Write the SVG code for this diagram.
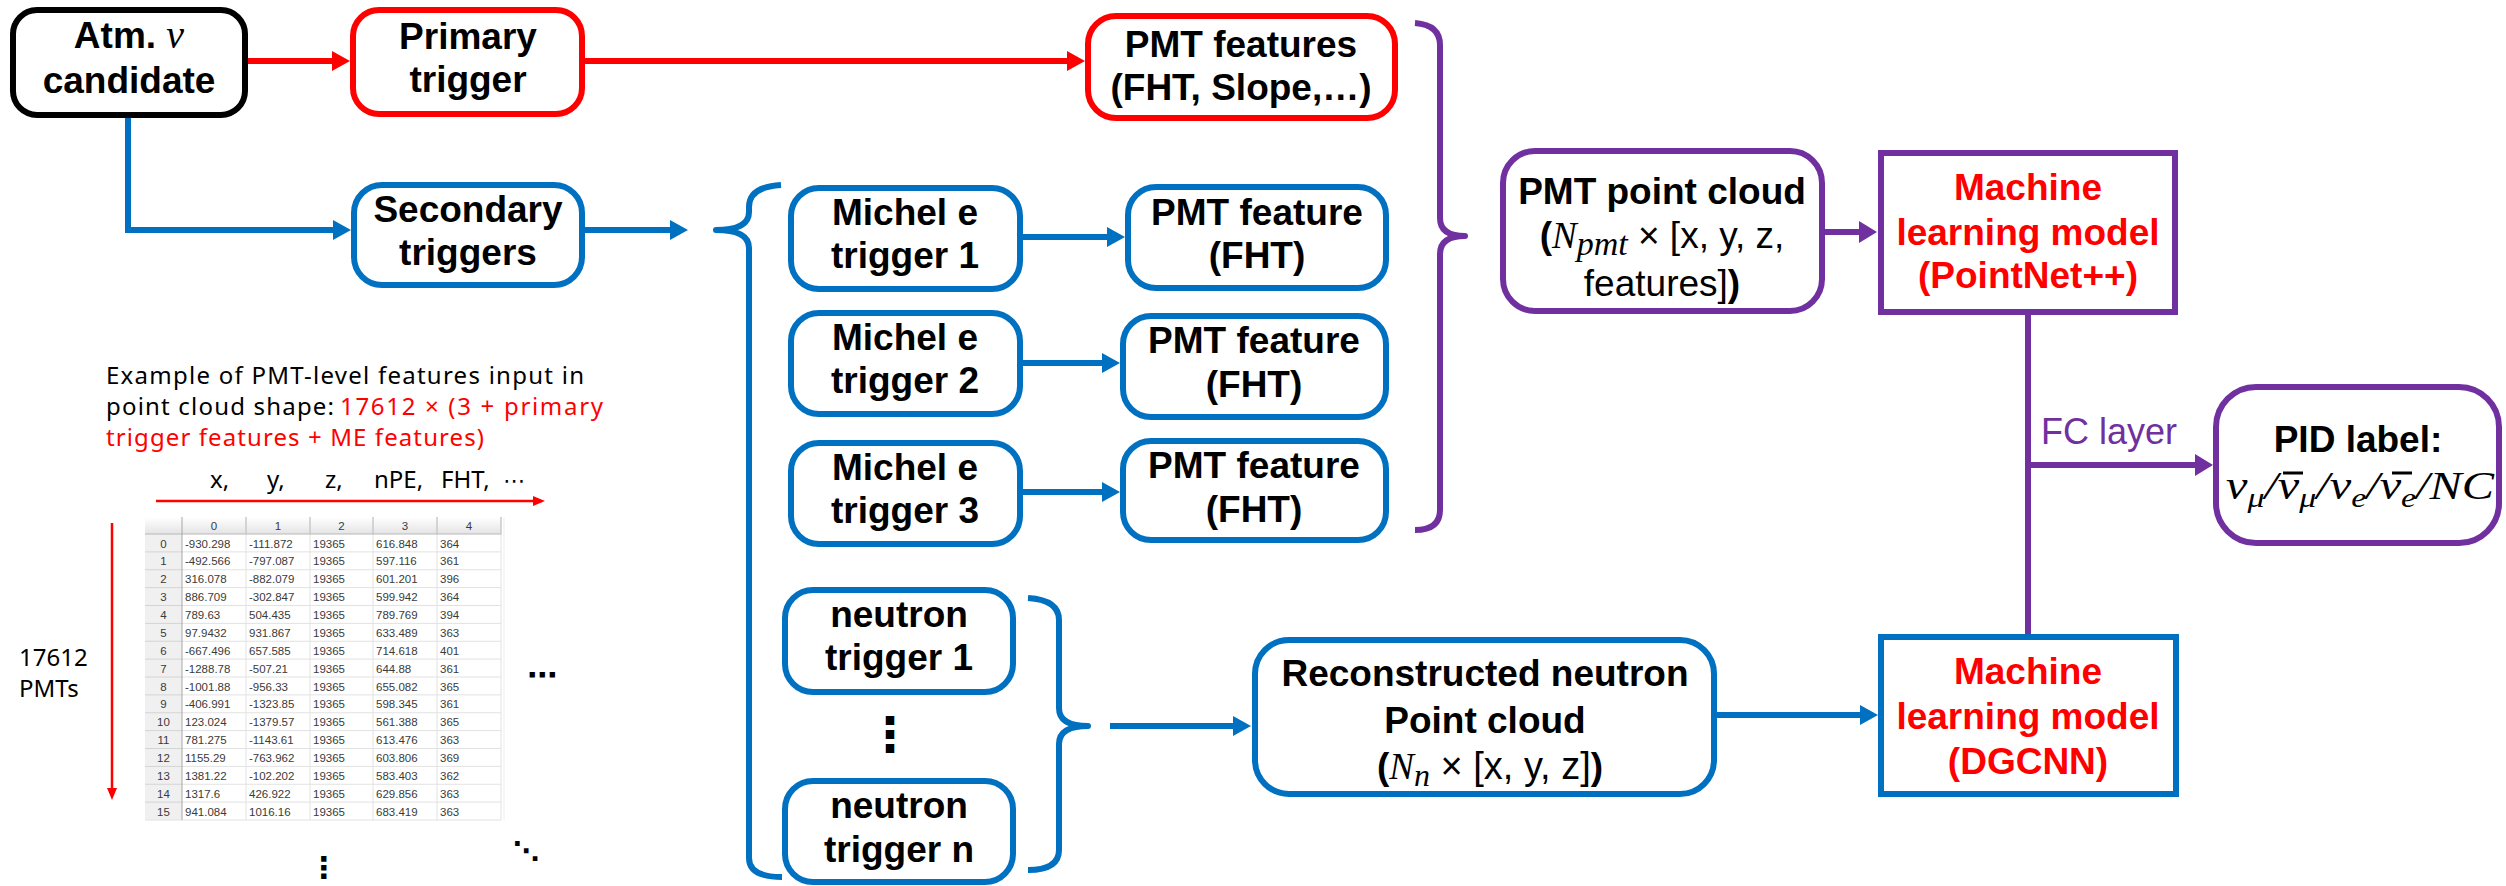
<svg xmlns="http://www.w3.org/2000/svg" width="2506" height="886" viewBox="0 0 2506 886">
  <style>
    .box { fill: #fff; stroke-width: 6; }
    .k { stroke: #000; }
    .r { stroke: #FF0000; }
    .b { stroke: #0070C0; }
    .p { stroke: #7030A0; }
    .lbl { font-family: "Liberation Sans", Arial, sans-serif; font-weight: bold; font-size: 37px; text-anchor: middle; fill: #000; }
    .reg { font-weight: normal; }
    .m { font-family: "Liberation Serif", "DejaVu Serif", serif; font-style: italic; font-weight: normal; }
    .wire { fill: none; stroke-width: 6; }
    .brace { fill: none; stroke-width: 6; stroke-linejoin: round; }
    .note { font-family: "Noto Sans", "Liberation Sans", sans-serif; font-size: 24px; fill: #000; }
    .cell { font-family: "Liberation Sans", Arial, sans-serif; font-size: 11.5px; fill: #3a3a3a; }
    .ctr { text-anchor: middle; }
    .dots { font-family: "DejaVu Sans", sans-serif; fill: #000; }
    .grid { stroke: #e2e2e2; stroke-width: 1; }
    .red { fill: #FF0000; }
  </style>
  <defs>
    <marker id="ahR" markerUnits="userSpaceOnUse" markerWidth="18" markerHeight="20" refX="10" refY="10" orient="auto">
      <path d="M0,0 L18,10 L0,20 Z" fill="#FF0000"/>
    </marker>
    <marker id="ahB" markerUnits="userSpaceOnUse" markerWidth="18" markerHeight="20" refX="10" refY="10" orient="auto">
      <path d="M0,0 L18,10 L0,20 Z" fill="#0070C0"/>
    </marker>
    <marker id="ahP" markerUnits="userSpaceOnUse" markerWidth="18" markerHeight="22" refX="10" refY="11" orient="auto">
      <path d="M0,0 L18,11 L0,22 Z" fill="#7030A0"/>
    </marker>
    <marker id="ahS" markerUnits="userSpaceOnUse" markerWidth="12" markerHeight="10" refX="6" refY="5" orient="auto">
      <path d="M0,0 L12,5 L0,10 Z" fill="#FF0000"/>
    </marker>
    <linearGradient id="hdr" x1="0" y1="0" x2="0" y2="1">
      <stop offset="0" stop-color="#ffffff"/>
      <stop offset="1" stop-color="#e4e4e4"/>
    </linearGradient>
  </defs>

  <!-- connectors -->
  <g id="connectors">
    <path class="wire r" d="M246,61 H342" marker-end="url(#ahR)"/>
    <path class="wire r" d="M585,61 H1077" marker-end="url(#ahR)"/>
    <path class="wire b" d="M128,116 V230 H343" marker-end="url(#ahB)"/>
    <path class="wire b" d="M585,230 H680" marker-end="url(#ahB)"/>
    <path class="wire b" d="M1023,237 H1117" marker-end="url(#ahB)"/>
    <path class="wire b" d="M1023,363 H1112" marker-end="url(#ahB)"/>
    <path class="wire b" d="M1023,492 H1112" marker-end="url(#ahB)"/>
    <path class="wire b" d="M1110,726 H1243" marker-end="url(#ahB)"/>
    <path class="wire b" d="M1716,715 H1870" marker-end="url(#ahB)"/>
    <path class="wire p" d="M1823,232 H1869" marker-end="url(#ahP)"/>
    <path class="wire p" d="M2028,315 V634"/>
    <path class="wire p" d="M2028,465 H2205" marker-end="url(#ahP)"/>
    <text x="2041" y="444" font-family="Liberation Sans, Arial, sans-serif" font-size="36" fill="#7030A0">FC layer</text>
    <!-- grouping braces -->
    <path class="brace b" d="M781,185 Q749,187 749,207 L749,212 Q749,230 716,230 Q749,230 749,248 L749,858 Q749,877 782,877"/>
    <path class="brace p" d="M1415,23 Q1440,25 1440,45 L1440,218 Q1440,236 1465,236 Q1440,236 1440,254 L1440,510 Q1440,530 1415,530"/>
    <path class="brace b" d="M1028,598 Q1059,600 1059,620 L1059,708 Q1059,726 1088,726 Q1059,726 1059,744 L1059,850 Q1059,870 1028,870"/>
  </g>

  <!-- nodes -->
  <g id="n-atm">
    <rect class="box k" x="13" y="10" width="232" height="105" rx="24"/>
    <text class="lbl" x="129" y="48">Atm. <tspan class="m" font-size="40">ν</tspan></text>
    <text class="lbl" x="129" y="93">candidate</text>
  </g>
  <g id="n-primary">
    <rect class="box r" x="353" y="10" width="229" height="104" rx="26"/>
    <text class="lbl" x="468" y="49">Primary</text>
    <text class="lbl" x="468" y="92">trigger</text>
  </g>
  <g id="n-pmt-features">
    <rect class="box r" x="1088" y="16" width="307" height="102" rx="28"/>
    <text class="lbl" x="1241" y="57">PMT features</text>
    <text class="lbl" x="1241" y="100">(FHT, Slope,…)</text>
  </g>
  <g id="n-secondary">
    <rect class="box b" x="354" y="185" width="228" height="100" rx="28"/>
    <text class="lbl" x="468" y="222">Secondary</text>
    <text class="lbl" x="468" y="265">triggers</text>
  </g>
  <g id="n-michel1">
    <rect class="box b" x="791" y="188" width="229" height="101" rx="28"/>
    <text class="lbl" x="905" y="225">Michel e</text>
    <text class="lbl" x="905" y="268">trigger 1</text>
  </g>
  <g id="n-michel2">
    <rect class="box b" x="791" y="313" width="229" height="101" rx="28"/>
    <text class="lbl" x="905" y="350">Michel e</text>
    <text class="lbl" x="905" y="393">trigger 2</text>
  </g>
  <g id="n-michel3">
    <rect class="box b" x="791" y="443" width="229" height="101" rx="28"/>
    <text class="lbl" x="905" y="480">Michel e</text>
    <text class="lbl" x="905" y="523">trigger 3</text>
  </g>
  <g id="n-feature1">
    <rect class="box b" x="1128" y="187" width="258" height="101" rx="28"/>
    <text class="lbl" x="1257" y="225">PMT feature</text>
    <text class="lbl" x="1257" y="268">(FHT)</text>
  </g>
  <g id="n-feature2">
    <rect class="box b" x="1123" y="316" width="263" height="101" rx="28"/>
    <text class="lbl" x="1254" y="353">PMT feature</text>
    <text class="lbl" x="1254" y="397">(FHT)</text>
  </g>
  <g id="n-feature3">
    <rect class="box b" x="1123" y="441" width="263" height="99" rx="28"/>
    <text class="lbl" x="1254" y="478">PMT feature</text>
    <text class="lbl" x="1254" y="522">(FHT)</text>
  </g>
  <g id="n-pointcloud">
    <rect class="box p" x="1503" y="151" width="319" height="160" rx="32"/>
    <text class="lbl" x="1662" y="204">PMT point cloud</text>
    <text class="lbl" x="1662" y="248" font-size="38">(<tspan class="m">N</tspan><tspan class="m" font-size="34" dy="7">pmt</tspan><tspan class="reg" dy="-7"> × [x, y, z,</tspan></text>
    <text class="lbl" x="1662" y="296"><tspan class="reg">features]</tspan>)</text>
  </g>
  <g id="n-pointnet">
    <rect class="box p" x="1881" y="153" width="294" height="159"/>
    <text class="lbl red" x="2028" y="200">Machine</text>
    <text class="lbl red" x="2028" y="245">learning model</text>
    <text class="lbl red" x="2028" y="288">(PointNet++)</text>
  </g>
  <g id="n-pid">
    <rect class="box p" x="2216" y="387" width="283" height="156" rx="40"/>
    <text class="lbl" x="2358" y="452">PID label:</text>
    <text class="m" x="2226" y="499" font-size="40" textLength="268" lengthAdjust="spacingAndGlyphs">ν<tspan font-size="28" dy="8">μ</tspan><tspan dy="-8">/ν</tspan><tspan font-size="28" dy="8">μ</tspan><tspan dy="-8">/ν</tspan><tspan font-size="28" dy="8">e</tspan><tspan dy="-8">/ν</tspan><tspan font-size="28" dy="8">e</tspan><tspan dy="-8">/NC</tspan></text>
    <path d="M2283,473 H2303 M2392,473 H2412" stroke="#000" stroke-width="3"/>
  </g>
  <g id="n-dgcnn">
    <rect class="box b" x="1881" y="637" width="295" height="157"/>
    <text class="lbl red" x="2028" y="684">Machine</text>
    <text class="lbl red" x="2028" y="729">learning model</text>
    <text class="lbl red" x="2028" y="774">(DGCNN)</text>
  </g>
  <g id="n-recon">
    <rect class="box b" x="1255" y="640" width="459" height="154" rx="34"/>
    <text class="lbl" x="1485" y="686">Reconstructed neutron</text>
    <text class="lbl" x="1485" y="733">Point cloud</text>
    <text class="lbl" x="1490" y="779" font-size="40">(<tspan class="m">N</tspan><tspan class="m" font-size="32" dy="7">n</tspan><tspan class="reg" font-size="38" dy="-7"> × [x, y, z]</tspan>)</text>
  </g>
  <g id="n-neutron1">
    <rect class="box b" x="785" y="590" width="228" height="102" rx="28"/>
    <text class="lbl" x="899" y="627">neutron</text>
    <text class="lbl" x="899" y="670">trigger 1</text>
  </g>
  <text class="dots" x="890" y="751" font-size="48" font-weight="bold" text-anchor="middle">⋮</text>
  <g id="n-neutronn">
    <rect class="box b" x="785" y="781" width="228" height="101" rx="28"/>
    <text class="lbl" x="899" y="818">neutron</text>
    <text class="lbl" x="899" y="862">trigger n</text>
  </g>

  <!-- PMT-level feature table example -->
  <g id="pmt-table-example">
    <text class="note" x="106" y="384" textLength="478">Example of PMT-level features input in</text>
    <text class="note" x="106" y="415" textLength="228">point cloud shape:</text>
    <text class="note" x="340" y="415" textLength="263" fill="#FF0000" style="fill:#FF0000">17612 × (3 + primary</text>
    <text class="note" x="106" y="446" textLength="378" fill="#FF0000" style="fill:#FF0000">trigger features + ME features)</text>
    <text class="note" y="488"><tspan x="210">x,</tspan><tspan x="267">y,</tspan><tspan x="325">z,</tspan><tspan x="374">nPE,</tspan><tspan x="441">FHT,</tspan></text>
    <text class="dots" x="503" y="488" font-size="22">⋯</text>
    <path d="M156,501 H539" stroke="#FF0000" stroke-width="2.5" marker-end="url(#ahS)"/>
    <path d="M112,523 V794" stroke="#FF0000" stroke-width="2.5" marker-end="url(#ahS)"/>
    <text class="note" x="19" y="666">17612</text>
    <text class="note" x="19" y="697">PMTs</text>

    <rect x="145" y="517" width="356" height="303" fill="#fff"/>
    <rect x="145" y="517" width="356" height="17" fill="url(#hdr)"/>
    <rect x="145" y="534" width="37" height="286" fill="#f0f0f0"/>
    <g class="grid">
      <path d="M182,551.9 H501 M182,569.75 H501 M182,587.6 H501 M182,605.5 H501 M182,623.4 H501 M182,641.25 H501 M182,659.1 H501 M182,677 H501 M182,694.9 H501 M182,712.75 H501 M182,730.6 H501 M182,748.5 H501 M182,766.4 H501 M182,784.25 H501 M182,802.1 H501 M145,820 H501"/>
      <path d="M145,551.9 H182 M145,569.75 H182 M145,587.6 H182 M145,605.5 H182 M145,623.4 H182 M145,641.25 H182 M145,659.1 H182 M145,677 H182 M145,694.9 H182 M145,712.75 H182 M145,730.6 H182 M145,748.5 H182 M145,766.4 H182 M145,784.25 H182 M145,802.1 H182" stroke="#d4d4d4"/>
      <path d="M246,517 V820 M310,517 V820 M373,517 V820 M437,517 V820 M501,517 V820"/>
      <path d="M246,517 V534 M310,517 V534 M373,517 V534 M437,517 V534 M501,517 V534" stroke="#bdbdbd"/>
      <path d="M145,534 H501" stroke="#b8b8b8"/>
      <path d="M182,517 V820" stroke="#a8a8a8"/>
      <path d="M504,517 V820" stroke="#ededed"/>
    </g>
    <g class="cell ctr">
      <text x="214" y="530">0</text>
      <text x="278" y="530">1</text>
      <text x="341.5" y="530">2</text>
      <text x="405" y="530">3</text>
      <text x="469" y="530">4</text>
    </g>
    <g class="cell ctr">
      <text x="163.5" y="547.5">0</text>
      <text x="163.5" y="565.4">1</text>
      <text x="163.5" y="583.25">2</text>
      <text x="163.5" y="601.1">3</text>
      <text x="163.5" y="619">4</text>
      <text x="163.5" y="636.9">5</text>
      <text x="163.5" y="654.75">6</text>
      <text x="163.5" y="672.6">7</text>
      <text x="163.5" y="690.5">8</text>
      <text x="163.5" y="708.4">9</text>
      <text x="163.5" y="726.25">10</text>
      <text x="163.5" y="744.1">11</text>
      <text x="163.5" y="762">12</text>
      <text x="163.5" y="779.9">13</text>
      <text x="163.5" y="797.75">14</text>
      <text x="163.5" y="815.6">15</text>
    </g>
    <g class="cell">
      <text y="547.5"><tspan x="185">-930.298</tspan><tspan x="249">-111.872</tspan><tspan x="313">19365</tspan><tspan x="376">616.848</tspan><tspan x="440">364</tspan></text>
      <text y="565.4"><tspan x="185">-492.566</tspan><tspan x="249">-797.087</tspan><tspan x="313">19365</tspan><tspan x="376">597.116</tspan><tspan x="440">361</tspan></text>
      <text y="583.25"><tspan x="185">316.078</tspan><tspan x="249">-882.079</tspan><tspan x="313">19365</tspan><tspan x="376">601.201</tspan><tspan x="440">396</tspan></text>
      <text y="601.1"><tspan x="185">886.709</tspan><tspan x="249">-302.847</tspan><tspan x="313">19365</tspan><tspan x="376">599.942</tspan><tspan x="440">364</tspan></text>
      <text y="619"><tspan x="185">789.63</tspan><tspan x="249">504.435</tspan><tspan x="313">19365</tspan><tspan x="376">789.769</tspan><tspan x="440">394</tspan></text>
      <text y="636.9"><tspan x="185">97.9432</tspan><tspan x="249">931.867</tspan><tspan x="313">19365</tspan><tspan x="376">633.489</tspan><tspan x="440">363</tspan></text>
      <text y="654.75"><tspan x="185">-667.496</tspan><tspan x="249">657.585</tspan><tspan x="313">19365</tspan><tspan x="376">714.618</tspan><tspan x="440">401</tspan></text>
      <text y="672.6"><tspan x="185">-1288.78</tspan><tspan x="249">-507.21</tspan><tspan x="313">19365</tspan><tspan x="376">644.88</tspan><tspan x="440">361</tspan></text>
      <text y="690.5"><tspan x="185">-1001.88</tspan><tspan x="249">-956.33</tspan><tspan x="313">19365</tspan><tspan x="376">655.082</tspan><tspan x="440">365</tspan></text>
      <text y="708.4"><tspan x="185">-406.991</tspan><tspan x="249">-1323.85</tspan><tspan x="313">19365</tspan><tspan x="376">598.345</tspan><tspan x="440">361</tspan></text>
      <text y="726.25"><tspan x="185">123.024</tspan><tspan x="249">-1379.57</tspan><tspan x="313">19365</tspan><tspan x="376">561.388</tspan><tspan x="440">365</tspan></text>
      <text y="744.1"><tspan x="185">781.275</tspan><tspan x="249">-1143.61</tspan><tspan x="313">19365</tspan><tspan x="376">613.476</tspan><tspan x="440">363</tspan></text>
      <text y="762"><tspan x="185">1155.29</tspan><tspan x="249">-763.962</tspan><tspan x="313">19365</tspan><tspan x="376">603.806</tspan><tspan x="440">369</tspan></text>
      <text y="779.9"><tspan x="185">1381.22</tspan><tspan x="249">-102.202</tspan><tspan x="313">19365</tspan><tspan x="376">583.403</tspan><tspan x="440">362</tspan></text>
      <text y="797.75"><tspan x="185">1317.6</tspan><tspan x="249">426.922</tspan><tspan x="313">19365</tspan><tspan x="376">629.856</tspan><tspan x="440">363</tspan></text>
      <text y="815.6"><tspan x="185">941.084</tspan><tspan x="249">1016.16</tspan><tspan x="313">19365</tspan><tspan x="376">683.419</tspan><tspan x="440">363</tspan></text>
    </g>
    <text class="dots" x="527" y="685" font-size="30" font-weight="bold">⋯</text>
    <text class="dots" x="324" y="878" font-size="30" font-weight="bold" text-anchor="middle">⋮</text>
    <text class="dots" x="526" y="860" font-size="26" font-weight="bold" text-anchor="middle">⋱</text>
  </g>
</svg>
